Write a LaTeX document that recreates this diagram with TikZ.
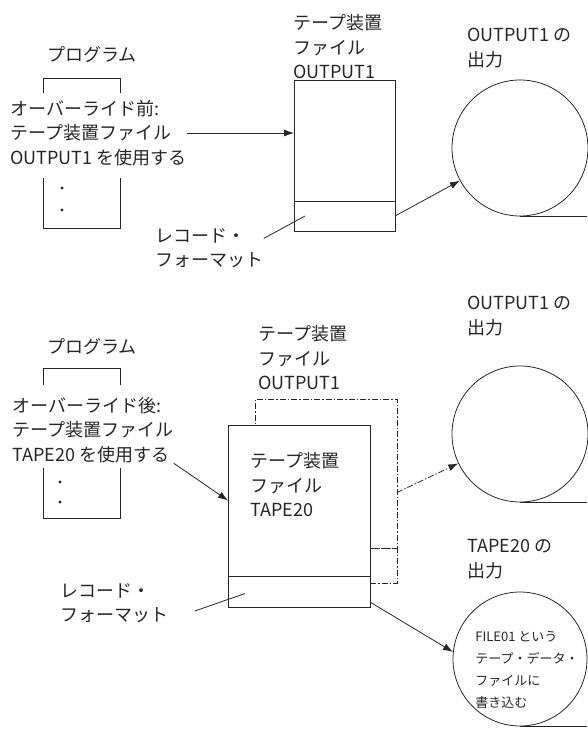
\documentclass[tikz,border=0pt]{standalone}
\usepackage{fontspec}
\setmainfont{Noto Sans CJK JP}
\usetikzlibrary{positioning}
\usetikzlibrary{arrows.meta}

\begin{document}
\begin{tikzpicture}[x = 1pt, y = -1pt, color = black!85, line width = 0.8pt,
		> = {Latex[length = 10pt, width = 7pt]},
		jtext/.style = {font = \fontsize{18}{24.5}\selectfont, inner sep = 0pt, align = left},
		smalltext/.style = {font = \fontsize{13}{22}\selectfont, inner sep = 0pt, align = left},
		chainline/.style = {dash pattern = on 6pt off 2pt on 1.5pt off 2pt},
		filebox/.style = {draw, fill = white, inner sep = 0pt, outer sep = 0pt},
		ghostbox/.style = {draw, chainline, inner sep = 0pt, outer sep = 0pt},
		reel/.style = {draw, circle, inner sep = 0pt, minimum size = 136pt}]
	\useasboundingbox (0, 0) rectangle (587, 729);
	\node (prog1) at (92, 55) [jtext] {プログラム};
	\draw (43, 93) -- (43, 78) -- (120, 78) -- (120, 93);
	\node (use1) at (10, 133) [jtext, anchor = west] {オーバーライド前:\\テープ装置ファイル\\OUTPUT1 を使用する};
	\draw (43, 178) -- (43, 228) -- (120, 228) -- (120, 178);
	\fill (62, 188) circle (1.6);
	\fill (62, 210) circle (1.6);
	\node (name1) at (293, 47) [jtext, anchor = west] {テープ装置\\ファイル\\OUTPUT1};
	\node (tape1) at (294, 80) [filebox, anchor = north west, minimum width = 101pt, minimum height = 121pt] {};
	\node (rec1) [filebox, below = 0pt of tape1, minimum width = 101pt, minimum height = 30pt] {};
	\node (fmt1) at (155, 248) [jtext, anchor = west] {レコード・\\フォーマット};
	\node (out1) at (520, 148) [reel] {};
	\node (head1) at (467, 48) [jtext, anchor = west] {OUTPUT1 の\\出力};
	\draw (out1.south) -- ++(67, 0);
	\draw [->] (use1.east) -- (use1.east -| tape1.west);
	\draw (fmt1.10) -- ([xshift = 11pt]rec1.west);
	\draw [->] (rec1.east) -- (out1);
	\node (prog2) at (92, 347) [jtext] {プログラム};
	\draw (43, 385) -- (43, 368) -- (120, 368) -- (120, 385);
	\node (use2) at (12, 430) [jtext, anchor = west] {オーバーライド後:\\テープ装置ファイル\\TAPE20 を使用する};
	\draw (43, 468) -- (43, 518) -- (120, 518) -- (120, 468);
	\fill (60, 482) circle (1.6);
	\fill (60, 502) circle (1.6);
	\node (name2) at (258, 358) [jtext, anchor = west] {テープ装置\\ファイル\\OUTPUT1};
	\node (old2) at (255, 399) [ghostbox, anchor = north west, minimum width = 142pt, minimum height = 149pt] {};
	\node (oldrec2) [ghostbox, below = 0pt of old2, minimum width = 142pt, minimum height = 35pt] {};
	\node (tape2) at (228, 425) [filebox, anchor = north west, minimum width = 142pt, minimum height = 151pt] {};
	\node (rec2) [filebox, below = 0pt of tape2, minimum width = 142pt, minimum height = 31pt] {};
	\node (name3) at (250, 485) [jtext, anchor = west] {テープ装置\\ファイル\\TAPE20};
	\node (fmt2) at (60, 603) [jtext, anchor = west] {レコード・\\フォーマット};
	\node (out2) at (520, 434) [reel] {};
	\node (head2) at (467, 316) [jtext, anchor = west] {OUTPUT1 の\\出力};
	\draw (out2.south) -- ++(67, 0);
	\node (out3) at (520, 659) [reel, minimum size = 134pt] {};
	\node (head3) at (467, 559) [jtext, anchor = west] {TAPE20 の\\出力};
	\draw (out3.south) -- ++(67, 0);
	\node (note3) at (475, 670) [smalltext, anchor = west] {FILE01 という\\テープ・データ・\\ファイルに\\書き込む};
	\draw [->] (use2.south east) -- (tape2.west);
	\draw [chainline, ->] (old2.-15) -- (out2);
	\draw ([xshift = 26pt, yshift = -8pt]fmt2.east) -- ([xshift = 17pt, yshift = -2pt]rec2.west);
	\draw [->] ([yshift = 5pt]rec2.south east) -- (out3.174);
\end{tikzpicture}
\end{document}
